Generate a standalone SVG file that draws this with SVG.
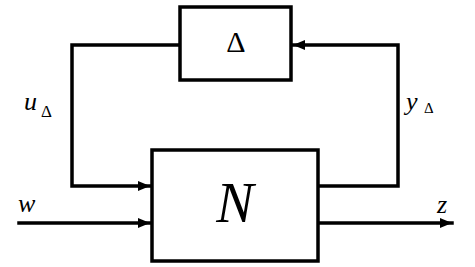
<svg xmlns="http://www.w3.org/2000/svg" width="475" height="267" viewBox="0 0 475 267">
<style>
.box{fill:#fff;stroke:#000;stroke-width:3.5}
.ln{fill:none;stroke:#000;stroke-width:3.5;stroke-linejoin:miter;stroke-linecap:square}
.i{font-style:italic}
</style>
<defs>
<marker id="ah" viewBox="0 0 12 10" refX="12" refY="5" markerWidth="12" markerHeight="10" markerUnits="userSpaceOnUse" orient="auto">
<path d="M0,0 L12,5 L0,10 Z" fill="#000"/>
</marker>
</defs>
<g id="connectors">
<path class="ln" d="M180,45 H72 V186 H150" marker-end="url(#ah)"/>
<path class="ln" d="M19,223 H150" stroke-linecap="butt" marker-end="url(#ah)"/>
<path class="ln" d="M318,186 H398 V45 H293" marker-end="url(#ah)"/>
<path class="ln" d="M318,223 H452" stroke-linecap="butt" marker-end="url(#ah)"/>
</g>
<g font-family="Liberation Serif, DejaVu Serif, serif" fill="#000">
<g id="delta">
<rect class="box" x="180" y="7" width="111" height="73"/>
<text x="236" y="52" font-size="30" text-anchor="middle">Δ</text>
</g>
<g id="N">
<rect class="box" x="152" y="150" width="166" height="111"/>
<text class="i" x="235" y="222" font-size="56" text-anchor="middle">N</text>
</g>
<g id="labels">
<text class="i" x="24" y="110" font-size="26">u</text>
<text x="41" y="117" font-size="17">Δ</text>
<text class="i" x="406" y="110" font-size="26">y</text>
<text x="424" y="113" font-size="15">Δ</text>
<text class="i" x="18" y="212" font-size="26">w</text>
<text class="i" x="437" y="213" font-size="26">z</text>
</g>
</g>
</svg>
